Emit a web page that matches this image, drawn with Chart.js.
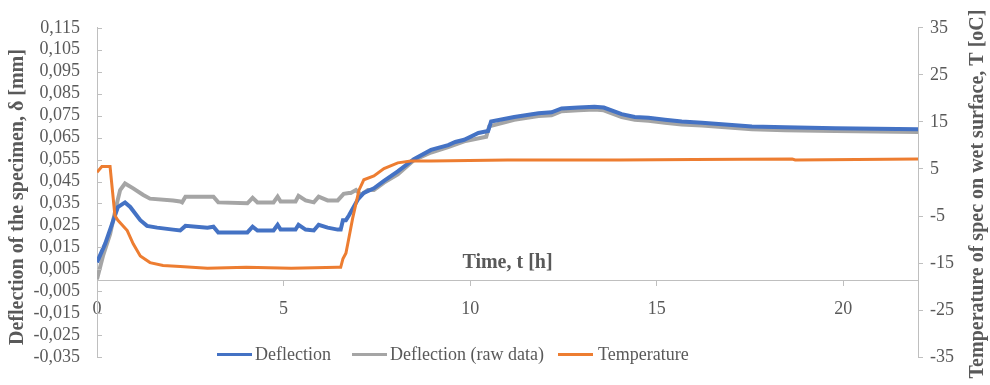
<!DOCTYPE html>
<html lang="en">
<head>
  <meta charset="UTF-8">
  <title>Deflection and temperature</title>
  <script src="https://cdn.jsdelivr.net/npm/chart.js@4"></script>
  <style>
    * { margin: 0; padding: 0; box-sizing: border-box; }
    body { background: #fff; width: 990px; height: 385px; overflow: hidden; font-family: 'Liberation Serif', serif; }
    .wrap { position: relative; width: 990px; height: 385px; }
    .legend { position: absolute; top: 342px; left: 0; height: 24px; font-size: 18px; color: #595959; }
    .legend span { position: absolute; white-space: nowrap; line-height: 24px; }
    .legend i { position: absolute; top: 11px; width: 35px; height: 3px; }
  </style>
</head>
<body>
  <div class="wrap">
    <canvas id="chart" width="990" height="385"></canvas>
    <div class="legend">
      <i style="left:217px;background:#4472C4"></i><span style="left:255px">Deflection</span>
      <i style="left:352px;background:#A5A5A5"></i><span style="left:390px">Deflection (raw data)</span>
      <i style="left:558px;background:#ED7D31"></i><span style="left:598px">Temperature</span>
    </div>
  </div>

  <script>
    // time in hours, deflection in mm, temperature in oC
    const deflectionTime = [0, 0.22, 0.43, 0.56, 0.75, 0.89, 1.16, 1.34, 1.61, 2.04, 2.23, 2.37, 2.96, 3.12, 3.25, 4.03, 4.17, 4.30, 4.73, 4.84, 4.92, 5.32, 5.40, 5.59, 5.81, 5.94, 6.18, 6.45, 6.53, 6.59, 6.67, 6.75, 6.99, 7.15, 7.42, 7.69, 8.06, 8.49, 8.95, 9.41, 9.6, 9.84, 10.22, 10.48, 10.56, 11.18, 11.83, 12.18, 12.45, 12.90, 13.33, 13.58, 14.06, 14.41, 14.78, 15.22, 15.67, 16.21, 17.55, 18.44, 19.78, 22]
    const deflectionValues = [0.0082, 0.0167, 0.0270, 0.0334, 0.0355, 0.0334, 0.0274, 0.0248, 0.0240, 0.0231, 0.0227, 0.0248, 0.0240, 0.0244, 0.0218, 0.0218, 0.0244, 0.0227, 0.0227, 0.0253, 0.0231, 0.0231, 0.0253, 0.0231, 0.0227, 0.0253, 0.0240, 0.0231, 0.0231, 0.0274, 0.0274, 0.0295, 0.0368, 0.0398, 0.0419, 0.0453, 0.0496, 0.0552, 0.0594, 0.0616, 0.0630, 0.0640, 0.0671, 0.0680, 0.0723, 0.0744, 0.0761, 0.0765, 0.0783, 0.0787, 0.0791, 0.0787, 0.0757, 0.0744, 0.0740, 0.0731, 0.0723, 0.0718, 0.0701, 0.0697, 0.0693, 0.0688]

    const rawTime = [0, 0.16, 0.35, 0.54, 0.62, 0.75, 0.97, 1.24, 1.42, 2.04, 2.23, 2.28, 2.37, 3.12, 3.25, 4.03, 4.17, 4.30, 4.73, 4.84, 4.92, 5.32, 5.40, 5.59, 5.81, 5.94, 6.18, 6.45, 6.61, 6.75, 6.80, 6.94, 7.07, 7.26, 7.42, 7.69, 8.06, 8.49, 8.95, 9.41, 9.84, 10.43, 10.51, 11.18, 11.83, 12.18, 12.45, 12.90, 13.33, 13.58, 14.06, 14.41, 14.78, 15.22, 15.67, 16.21, 17.55, 18.44, 19.78, 22]
    const rawValues = [0.0005, 0.0111, 0.0210, 0.0355, 0.0411, 0.0441, 0.0419, 0.0389, 0.0372, 0.0364, 0.0359, 0.0355, 0.0381, 0.0381, 0.0355, 0.0351, 0.0376, 0.0355, 0.0355, 0.0381, 0.0359, 0.0359, 0.0385, 0.0364, 0.0355, 0.0381, 0.0364, 0.0364, 0.0394, 0.0398, 0.0398, 0.0411, 0.0389, 0.0411, 0.0411, 0.0445, 0.0483, 0.0547, 0.0582, 0.0607, 0.0633, 0.0654, 0.0701, 0.0731, 0.0748, 0.0752, 0.0770, 0.0774, 0.0778, 0.0774, 0.0744, 0.0731, 0.0727, 0.0718, 0.0710, 0.0705, 0.0688, 0.0684, 0.0680, 0.0675]

    const tempTime = [0, 0.13, 0.35, 0.48, 0.56, 0.81, 0.97, 1.16, 1.42, 1.77, 2.23, 2.96, 4.0, 5.2, 6.45, 6.53, 6.59, 6.67, 6.72, 6.85, 7.02, 7.15, 7.42, 7.69, 8.06, 8.41, 8.95, 11, 14, 16, 18.63, 18.71, 22]
    const tempValues = [4.3, 5.5, 5.5, -4.9, -5.9, -8.1, -10.9, -13.5, -14.9, -15.5, -15.7, -16.1, -15.9, -16.1, -15.9, -15.9, -14.1, -12.9, -10.9, -5.5, 0.5, 2.7, 3.5, 5.1, 6.3, 6.7, 6.7, 6.9, 6.9, 7.0, 7.1, 6.9, 7.1]

    const xTicks = [0, 5, 10, 15, 20]
    const xTitle = 'Time, t [h]'
    const leftTitle = 'Deflection of the specimen, δ [mm]'
    const rightTitle = 'Temperature of spec on wet surface, T [oC]'

    const axisColor = '#BFBFBF'
    const textColor = '#595959'
    const serif = "'Liberation Serif', 'Times New Roman', serif"

    const pairs = (xs, ys) => xs.map((t, i) => ({ x: t, y: ys[i] }))

    const rotated = (ctx, text, cx, cy) => {
      ctx.save()
      ctx.translate(cx, cy)
      ctx.rotate(-Math.PI / 2)
      ctx.fillText(text, 0, 0)
      ctx.restore()
    }

    const decor = {
      id: 'decor',
      afterDraw(chart) {
        const { ctx, chartArea, scales: { y } } = chart
        ctx.save()
        ctx.strokeStyle = axisColor
        ctx.lineWidth = 1
        y.ticks.forEach(t => {
          const py = Math.round(y.getPixelForValue(t.value)) + 0.5
          ctx.beginPath()
          ctx.moveTo(chartArea.left, py)
          ctx.lineTo(chartArea.left + 5, py)
          ctx.stroke()
        })
        ctx.fillStyle = textColor
        ctx.font = 'bold 20px ' + serif
        ctx.textAlign = 'center'
        ctx.textBaseline = 'middle'
        ctx.fillText(xTitle, (chartArea.left + chartArea.right) / 2, y.getPixelForValue(0) - 18)
        rotated(ctx, leftTitle, 18, 197)
        rotated(ctx, rightTitle, 978, 194)
        ctx.restore()
      }
    }

    new Chart(document.getElementById('chart'), {
      type: 'line',
      data: {
        datasets: [
          { label: 'Temperature', data: pairs(tempTime, tempValues), yAxisID: 'y1', borderColor: '#ED7D31', borderWidth: 3, pointRadius: 0, tension: 0 },
          { label: 'Deflection', data: pairs(deflectionTime, deflectionValues), yAxisID: 'y', borderColor: '#4472C4', borderWidth: 4, pointRadius: 0, tension: 0 },
          { label: 'Deflection (raw data)', data: pairs(rawTime, rawValues), yAxisID: 'y', borderColor: '#A5A5A5', borderWidth: 4, pointRadius: 0, tension: 0 }
        ]
      },
      options: {
        responsive: false,
        animation: false,
        layout: { padding: { top: 17, bottom: 17, left: 0, right: 0 } },
        plugins: { legend: { display: false }, tooltip: { enabled: false } },
        scales: {
          x: {
            type: 'linear',
            position: { y: 0 },
            min: 0,
            max: 22,
            afterBuildTicks: s => { s.ticks = xTicks.map(v => ({ value: v })) },
            grid: { drawOnChartArea: false, drawTicks: true, tickLength: 5, color: axisColor },
            border: { color: axisColor },
            ticks: { color: textColor, font: { family: serif, size: 18 }, padding: 13, maxRotation: 0 }
          },
          y: {
            position: 'left',
            min: -0.035,
            max: 0.115,
            afterFit: s => { s.width = 97 },
            grid: { drawOnChartArea: false, drawTicks: false },
            border: { color: axisColor },
            ticks: {
              stepSize: 0.01,
              autoSkip: false,
              color: textColor,
              padding: 17,
              font: { family: serif, size: 18 },
              callback: v => v.toFixed(3).replace('.', ',')
            }
          },
          y1: {
            position: 'right',
            min: -35,
            max: 35,
            afterFit: s => { s.width = 72 },
            grid: { drawOnChartArea: false, drawTicks: true, tickLength: 5, color: axisColor },
            border: { color: axisColor },
            ticks: { stepSize: 10, autoSkip: false, color: textColor, padding: 7, font: { family: serif, size: 18 } }
          }
        }
      },
      plugins: [decor]
    })
  </script>
</body>
</html>
